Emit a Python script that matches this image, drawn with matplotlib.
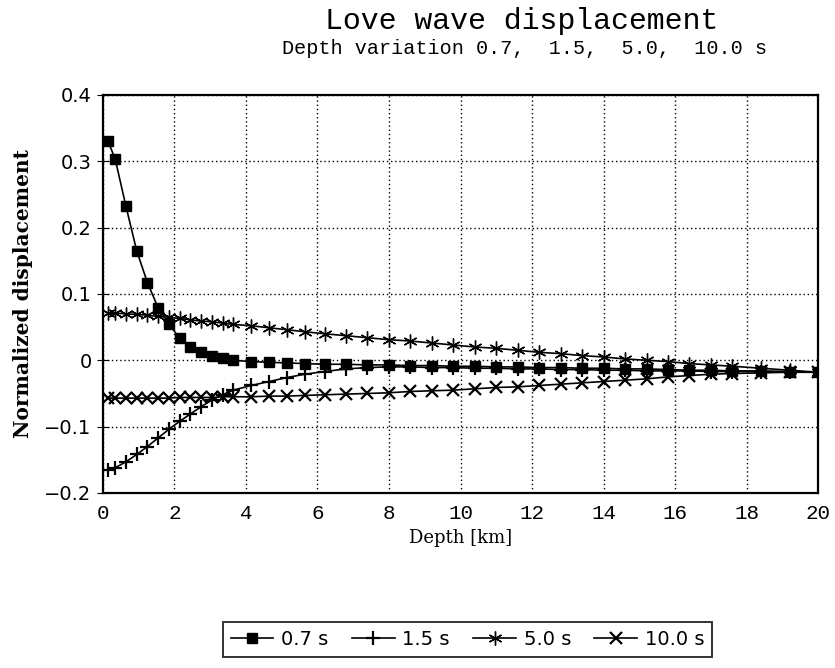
import matplotlib.pyplot as plt

# depth grid [km] shared by all curves
depth = [0.15, 0.35, 0.65, 0.95, 1.25, 1.55, 1.85, 2.15, 2.45, 2.75, 3.05, 3.35, 3.65,
         4.15, 4.65, 5.15, 5.65, 6.2, 6.8, 7.4, 8.0, 8.6, 9.2, 9.8, 10.4, 11.0, 11.6,
         12.2, 12.8, 13.4, 14.0, 14.6, 15.2, 15.8, 16.4, 17.0, 17.6, 18.4, 19.2, 20.0]

disp_07 = [0.33, 0.303, 0.232, 0.165, 0.117, 0.079, 0.055, 0.033, 0.020, 0.012, 0.006, 0.003, 0.000,
           -0.002, -0.003, -0.004, -0.005, -0.006, -0.006, -0.007, -0.007, -0.008, -0.008, -0.009,
           -0.009, -0.010, -0.010, -0.011, -0.011, -0.012, -0.012, -0.013, -0.013, -0.014, -0.015,
           -0.015, -0.016, -0.016, -0.017, -0.018]

disp_15 = [-0.165, -0.162, -0.153, -0.142, -0.130, -0.117, -0.104, -0.092, -0.081, -0.070, -0.060,
           -0.052, -0.045, -0.038, -0.032, -0.026, -0.021, -0.017, -0.013, -0.011, -0.010, -0.010,
           -0.011, -0.011, -0.012, -0.012, -0.013, -0.013, -0.014, -0.014, -0.015, -0.015, -0.016,
           -0.016, -0.016, -0.017, -0.017, -0.017, -0.018, -0.018]

disp_50 = [0.071, 0.071, 0.070, 0.069, 0.068, 0.066, 0.065, 0.063, 0.061, 0.059, 0.058, 0.056, 0.054,
           0.052, 0.049, 0.046, 0.043, 0.040, 0.037, 0.034, 0.031, 0.029, 0.026, 0.023, 0.020, 0.018,
           0.015, 0.012, 0.010, 0.007, 0.005, 0.002, 0.000, -0.002, -0.005, -0.007, -0.009, -0.012,
           -0.015, -0.018]

disp_100 = [-0.057, -0.057, -0.057, -0.057, -0.057, -0.057, -0.057, -0.056, -0.056, -0.056, -0.056,
            -0.055, -0.055, -0.055, -0.054, -0.054, -0.053, -0.052, -0.051, -0.050, -0.049, -0.047,
            -0.046, -0.045, -0.043, -0.041, -0.040, -0.038, -0.036, -0.034, -0.032, -0.030, -0.028,
            -0.025, -0.023, -0.021, -0.020, -0.019, -0.018, -0.018]

x_ticks = [0, 2, 4, 6, 8, 10, 12, 14, 16, 18, 20]
y_ticks = [-0.2, -0.1, 0, 0.1, 0.2, 0.3, 0.4]
y_labels = ["\u22120.2", "\u22120.1", "0", "0.1", "0.2", "0.3", "0.4"]


def main():
    fig = plt.figure(figsize=(8.35, 6.68), dpi=100)
    ax = fig.add_axes([0.123, 0.262, 0.857, 0.596])

    ax.plot(depth, disp_07, color="black", lw=1.2, marker="s", ms=7, label="0.7 s")
    ax.plot(depth, disp_15, color="black", lw=1.2, marker="+", ms=10, mew=1.6, label="1.5 s")
    ax.plot(depth, disp_50, color="black", lw=1.2, marker=(6, 2, 0), ms=10, mew=1.0, label="5.0 s")
    ax.plot(depth, disp_100, color="black", lw=1.2, marker="x", ms=9, mew=1.6, label="10.0 s")

    ax.set_xlim(0, 20)
    ax.set_ylim(-0.2, 0.4)
    ax.set_xticks(x_ticks)
    ax.set_yticks(y_ticks)
    ax.set_yticklabels(y_labels)
    ax.grid(True, color="black", linestyle=(0, (1, 2)), linewidth=1.0)
    ax.tick_params(axis="y", direction="inout", length=8, labelsize=14, pad=4)
    ax.tick_params(axis="x", length=0, labelsize=15, pad=8)
    for lbl in ax.get_xticklabels():
        lbl.set_family("Liberation Mono")
    for s in ax.spines.values():
        s.set_linewidth(1.6)

    ax.set_xlabel("Depth [km]", family="DejaVu Serif", fontsize=13, labelpad=4)
    ax.set_ylabel("Normalized displacement", family="DejaVu Serif", fontsize=14.5,
                  fontweight="bold", labelpad=8)

    fig.text(0.625, 0.968, "Love wave displacement", ha="center", va="center",
             family="Liberation Mono", fontsize=21.5)
    fig.text(0.628, 0.928, "Depth variation 0.7,  1.5,  5.0,  10.0 s", ha="center",
             va="center", family="Liberation Mono", fontsize=14.5)

    leg = fig.legend(loc="center", ncol=4, frameon=True, fancybox=False, fontsize=14,
                     handlelength=2.2, columnspacing=1.2, handletextpad=0.4,
                     borderpad=0.4)
    leg.set_bbox_to_anchor((0.560, 0.043), transform=fig.transFigure)
    leg.get_frame().set_edgecolor("black")
    leg.get_frame().set_linewidth(1.4)

    fig.savefig("out.png", dpi=100)


if __name__ == "__main__":
    main()
